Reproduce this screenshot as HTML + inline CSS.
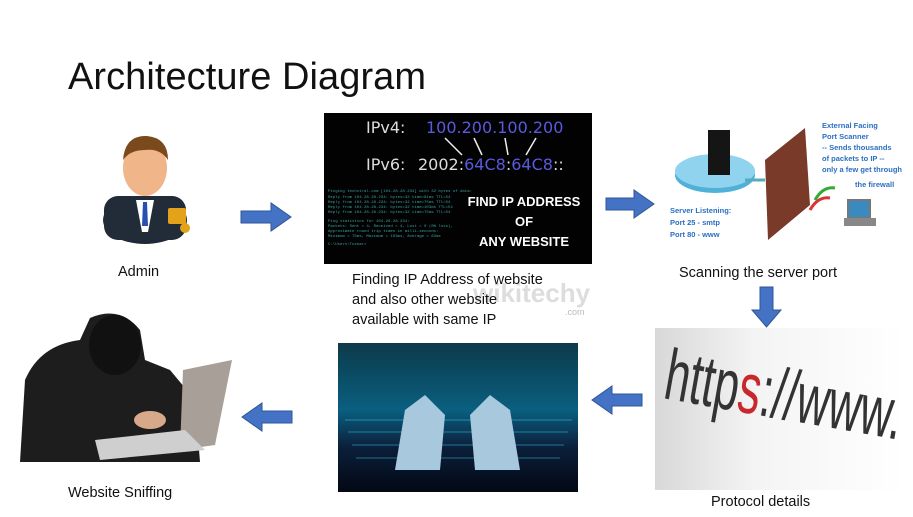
<!DOCTYPE html>
<html><head><meta charset="utf-8"><style>
html,body{margin:0;padding:0;background:#fff;}
body{width:913px;height:517px;overflow:hidden;position:relative;font-family:"Liberation Sans",sans-serif;}
.t{position:absolute;color:#111;font-size:14.5px;line-height:20px;white-space:nowrap;}
</style></head><body>
<svg width="913" height="517" style="position:absolute;left:0;top:0" xmlns="http://www.w3.org/2000/svg">
<defs>
<linearGradient id="kb" x1="0" y1="0" x2="0" y2="1"><stop offset="0" stop-color="#0c3a4a"/><stop offset="0.45" stop-color="#0a5f80"/><stop offset="0.7" stop-color="#0b1f3a"/><stop offset="1" stop-color="#030814"/></linearGradient>
<linearGradient id="ht" x1="0" y1="0" x2="1" y2="0"><stop offset="0" stop-color="#d8d8d8"/><stop offset="0.4" stop-color="#f4f4f4"/><stop offset="1" stop-color="#fff"/></linearGradient>
<clipPath id="hc"><rect x="655" y="328" width="250" height="162"/></clipPath>
</defs>
<text x="68" y="89" font-family="Liberation Sans, sans-serif" font-size="38" fill="#111" textLength="358">Architecture Diagram</text>

<!-- Admin icon -->
<g>
<ellipse cx="145" cy="220" rx="42" ry="24" fill="#1e2a3a"/>
<rect x="104" y="196" width="82" height="44" rx="14" fill="#222b38"/>
<polygon points="136,200 154,200 148,232 142,232" fill="#fff"/>
<polygon points="143,202 147,202 148,226 142,226" fill="#2a4fb0"/>
<ellipse cx="145" cy="168" rx="22" ry="28" fill="#f1b58a"/>
<path d="M123,160 Q125,135 147,136 Q168,138 168,160 Q160,148 145,150 Q130,150 123,160Z" fill="#7a4a1c"/>
<rect x="168" y="208" width="18" height="16" rx="2" fill="#e3a21a"/>
<circle cx="185" cy="228" r="5" fill="#e3a21a"/>
</g>

<!-- IP image -->
<rect x="324" y="113" width="268" height="151" fill="#020202"/>
<text x="366" y="133" font-size="16" fill="#ddd" font-family="DejaVu Sans, sans-serif">IPv4:</text>
<text x="426" y="133" font-size="16" fill="#5a5ae0" font-family="DejaVu Sans, sans-serif">100.200.100.200</text>
<text x="366" y="170" font-size="16" fill="#ddd" font-family="DejaVu Sans, sans-serif">IPv6:</text>
<text x="418" y="170" font-size="16" fill="#ddd" font-family="DejaVu Sans, sans-serif">2002:<tspan fill="#5a5ae0">64C8</tspan>:<tspan fill="#5a5ae0">64C8</tspan>::</text>
<g stroke="#eee" stroke-width="1.5"><line x1="445" y1="138" x2="462" y2="155"/><line x1="474" y1="138" x2="482" y2="155"/><line x1="505" y1="138" x2="508" y2="155"/><line x1="536" y1="138" x2="526" y2="155"/></g>
<g fill="#3aa4a0" font-size="4" font-family="Liberation Mono, monospace">
<text x="328" y="192">Pinging techviral.com [104.28.28.234] with 32 bytes of data:</text>
<text x="328" y="198">Reply from 104.28.28.234: bytes=32 time=81ms TTL=54</text>
<text x="328" y="203">Reply from 104.28.28.234: bytes=32 time=75ms TTL=54</text>
<text x="328" y="208">Reply from 104.28.28.234: bytes=32 time=103ms TTL=54</text>
<text x="328" y="213">Reply from 104.28.28.234: bytes=32 time=75ms TTL=54</text>
<text x="328" y="222">Ping statistics for 104.28.28.234:</text>
<text x="328" y="227">  Packets: Sent = 4, Received = 4, Lost = 0 (0% loss),</text>
<text x="328" y="232">Approximate round trip times in milli-seconds:</text>
<text x="328" y="237">  Minimum = 75ms, Maximum = 103ms, Average = 83ms</text>
<text x="328" y="245">C:\Users\Tushar&gt;</text>
</g>
<g font-size="13" font-weight="bold" fill="#fff" font-family="Liberation Sans, sans-serif" text-anchor="middle">
<text x="524" y="206">FIND IP ADDRESS</text><text x="524" y="226">OF</text><text x="524" y="246">ANY WEBSITE</text></g>

<!-- scanner -->
<ellipse cx="715" cy="175" rx="40" ry="18" fill="#4fb0d8"/>
<ellipse cx="715" cy="171" rx="40" ry="17" fill="#8fd3ef"/>
<rect x="708" y="130" width="22" height="45" fill="#151515"/>
<line x1="745" y1="180" x2="765" y2="180" stroke="#5ab" stroke-width="3"/>
<polygon points="765,160 805,128 810,205 768,240" fill="#7a3a2a"/>
<text x="822" y="128" font-size="7.5" fill="#2a6fc0" font-weight="bold">External Facing</text>
<text x="822" y="139" font-size="7.5" fill="#2a6fc0" font-weight="bold">Port Scanner</text>
<text x="822" y="150" font-size="7.5" fill="#2a6fc0" font-weight="bold">-- Sends thousands</text>
<text x="822" y="161" font-size="7.5" fill="#2a6fc0" font-weight="bold">of packets to IP --</text>
<text x="822" y="172" font-size="7.5" fill="#2a6fc0" font-weight="bold">only a few get through</text>
<text x="855" y="187" font-size="7.5" fill="#2a6fc0" font-weight="bold">the firewall</text>
<text x="670" y="213" font-size="7.5" fill="#2a6fc0" font-weight="bold">Server Listening:</text>
<text x="670" y="225" font-size="7.5" fill="#2a6fc0" font-weight="bold">Port 25 - smtp</text>
<text x="670" y="237" font-size="7.5" fill="#2a6fc0" font-weight="bold">Port 80 - www</text>
<rect x="848" y="200" width="22" height="18" fill="#3a8ac0" stroke="#777" stroke-width="2"/>
<rect x="844" y="218" width="32" height="8" fill="#888"/>
<path d="M810,210 q8,-14 20,-12" stroke="#d33" stroke-width="3" fill="none"/>
<path d="M815,200 q8,-14 20,-12" stroke="#3a3" stroke-width="3" fill="none"/>

<!-- https -->
<rect x="655" y="328" width="250" height="162" fill="url(#ht)"/>
<g clip-path="url(#hc)">
<text x="662" y="398" font-size="72" fill="#333" font-family="Liberation Sans Narrow, Liberation Sans, sans-serif" transform="rotate(10 662 398)" textLength="240" lengthAdjust="spacingAndGlyphs">http<tspan fill="#c8282c">s</tspan>://www.</text>
</g>

<!-- keyboard -->
<rect x="338" y="343" width="240" height="149" fill="url(#kb)"/>
<g stroke="#39c8e8" stroke-width="1" opacity="0.5">
<line x1="345" y1="420" x2="572" y2="420"/><line x1="348" y1="432" x2="568" y2="432"/><line x1="352" y1="445" x2="564" y2="445"/><line x1="356" y1="458" x2="560" y2="458"/></g>
<path d="M395,470 L405,410 L425,395 L445,415 L440,470Z" fill="#a8c8de"/>
<path d="M520,470 L510,410 L490,395 L470,415 L475,470Z" fill="#a8c8de"/>

<!-- hacker -->
<path d="M20,462 L25,380 Q40,345 80,340 L90,318 Q120,305 140,330 L145,360 L170,370 L195,400 L200,462Z" fill="#1d1d1d"/>
<ellipse cx="115" cy="345" rx="26" ry="30" fill="#111"/>
<polygon points="183,370 232,360 215,445 180,450" fill="#a8a098"/>
<polygon points="95,440 185,430 205,450 100,460" fill="#cfcfcf"/>
<ellipse cx="150" cy="420" rx="16" ry="9" fill="#d8a88a"/>

<!-- arrows -->
<g fill="#4472c4" stroke="#2f5597" stroke-width="1">
<polygon points="241,211 271,211 271,203 291,217 271,231 271,223 241,223"/>
<polygon points="606,198 634,198 634,190 654,204 634,218 634,210 606,210"/>
<polygon points="760,287 773,287 773,310 781,310 766.5,327 752,310 760,310"/>
<polygon points="642,394 612,394 612,386 592,400 612,414 612,406 642,406"/>
<polygon points="292,411 262,411 262,403 242,417 262,431 262,423 292,423"/>
</g>
<text x="473" y="302" font-size="26" font-weight="bold" fill="#c8c8c8" opacity="0.6">wikitechy</text>
<text x="565" y="315" font-size="9" fill="#bbb">.com</text>
</svg>
<div class="t" style="left:118px;top:262px;">Admin</div>
<div class="t" style="left:352px;top:270px;">Finding IP Address of website<br>and also other website<br>available with same IP</div>
<div class="t" style="left:679px;top:263px;">Scanning the server port</div>
<div class="t" style="left:68px;top:483px;">Website Sniffing</div>
<div class="t" style="left:711px;top:492px;">Protocol details</div>
</body></html>
